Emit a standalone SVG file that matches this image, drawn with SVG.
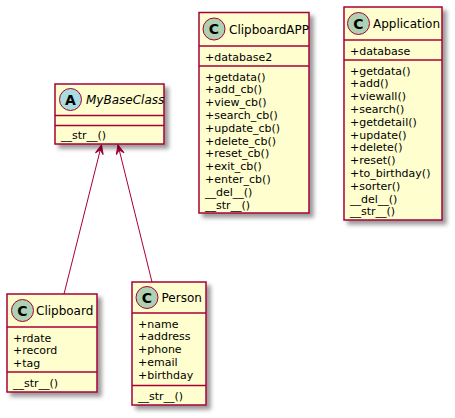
<svg xmlns="http://www.w3.org/2000/svg" width="455" height="418" viewBox="0 0 455 418">
<style>
.box{fill:#FEFECE;stroke:#A80036;stroke-width:1.5;filter:url(#sh)}
.sep{stroke:#A80036;stroke-width:1.5}
.name{font-family:"DejaVu Sans",sans-serif;font-size:12px;fill:#000}
.mem{font-family:"DejaVu Sans",sans-serif;font-size:11px;fill:#000}
.spotC{fill:#ADD1B2;stroke:#A80036;stroke-width:1}
.spotA{fill:#A9DCDF;stroke:#A80036;stroke-width:1}
.spotT{font-family:"DejaVu Sans",sans-serif;font-size:14px;font-weight:bold;fill:#000;text-anchor:middle}
.link{stroke:#A80036;stroke-width:1;fill:none}
</style>
<defs>
<filter id="sh" x="-20%" y="-20%" width="150%" height="150%">
<feGaussianBlur in="SourceAlpha" stdDeviation="2" result="b"/>
<feOffset in="b" dx="4" dy="4" result="o"/>
<feComponentTransfer in="o" result="s"><feFuncA type="linear" slope="0.4"/></feComponentTransfer>
<feMerge><feMergeNode in="s"/><feMergeNode in="SourceGraphic"/></feMerge>
</filter>
<marker id="arr" viewBox="-10 -5 11 10" refX="0" refY="0" markerWidth="11" markerHeight="10" markerUnits="userSpaceOnUse" orient="auto">
<path d="M0,0 L-9,-4 L-5,0 L-9,4 Z" fill="#A80036" stroke="#A80036" stroke-width="1"/>
</marker>
</defs>

<g id="connectors">
<line class="link" x1="64" y1="294" x2="101.5" y2="145" marker-end="url(#arr)"/>
<line class="link" x1="152" y1="282" x2="118" y2="145" marker-end="url(#arr)"/>
</g>

<g id="MyBaseClass">
<rect class="box" x="55" y="84" width="109" height="60"/>
<line class="sep" x1="55" y1="115.5" x2="164" y2="115.5"/>
<line class="sep" x1="55" y1="125.5" x2="164" y2="125.5"/>
<circle class="spotA" cx="70.5" cy="99.5" r="11"/>
<text class="spotT" x="70.5" y="104.5">A</text>
<text class="name" x="86" y="104" font-style="italic">MyBaseClass</text>
<text class="mem" x="61" y="139">__str__()</text>
</g>

<g id="ClipboardAPP">
<rect class="box" x="199" y="12.5" width="110" height="200.5"/>
<line class="sep" x1="199" y1="46" x2="309" y2="46"/>
<line class="sep" x1="199" y1="66" x2="309" y2="66"/>
<circle class="spotC" cx="214" cy="29" r="11"/>
<text class="spotT" x="214" y="34">C</text>
<text class="name" x="229" y="33.5">ClipboardAPP</text>
<text class="mem" x="205" y="60.5">+database2</text>
<text class="mem" x="205" y="80.5">+getdata()</text>
<text class="mem" x="205" y="93.3">+add_cb()</text>
<text class="mem" x="205" y="106.1">+view_cb()</text>
<text class="mem" x="205" y="118.9">+search_cb()</text>
<text class="mem" x="205" y="131.7">+update_cb()</text>
<text class="mem" x="205" y="144.5">+delete_cb()</text>
<text class="mem" x="205" y="157.3">+reset_cb()</text>
<text class="mem" x="205" y="170.1">+exit_cb()</text>
<text class="mem" x="205" y="182.9">+enter_cb()</text>
<text class="mem" x="205" y="195.7">__del__()</text>
<text class="mem" x="205" y="208.5">__str__()</text>
</g>

<g id="Application">
<rect class="box" x="344" y="7" width="98" height="213"/>
<line class="sep" x1="344" y1="40" x2="442" y2="40"/>
<line class="sep" x1="344" y1="60" x2="442" y2="60"/>
<circle class="spotC" cx="358.5" cy="23.5" r="11"/>
<text class="spotT" x="358.5" y="28.5">C</text>
<text class="name" x="373" y="28">Application</text>
<text class="mem" x="350" y="54.5">+database</text>
<text class="mem" x="350" y="74.5">+getdata()</text>
<text class="mem" x="350" y="87.3">+add()</text>
<text class="mem" x="350" y="100.1">+viewall()</text>
<text class="mem" x="350" y="112.9">+search()</text>
<text class="mem" x="350" y="125.7">+getdetail()</text>
<text class="mem" x="350" y="138.5">+update()</text>
<text class="mem" x="350" y="151.3">+delete()</text>
<text class="mem" x="350" y="164.1">+reset()</text>
<text class="mem" x="350" y="176.9">+to_birthday()</text>
<text class="mem" x="350" y="189.7">+sorter()</text>
<text class="mem" x="350" y="202.5">__del__()</text>
<text class="mem" x="350" y="215.3">__str__()</text>
</g>

<g id="Clipboard">
<rect class="box" x="7" y="294" width="90" height="98"/>
<line class="sep" x1="7" y1="327" x2="97" y2="327"/>
<line class="sep" x1="7" y1="372" x2="97" y2="372"/>
<circle class="spotC" cx="22.5" cy="310.5" r="11"/>
<text class="spotT" x="22.5" y="315.5">C</text>
<text class="name" x="36" y="315">Clipboard</text>
<text class="mem" x="13" y="341.5">+rdate</text>
<text class="mem" x="13" y="354.3">+record</text>
<text class="mem" x="13" y="367.1">+tag</text>
<text class="mem" x="13" y="386.5">__str__()</text>
</g>

<g id="Person">
<rect class="box" x="132" y="282" width="74" height="123"/>
<line class="sep" x1="132" y1="313" x2="206" y2="313"/>
<line class="sep" x1="132" y1="385.5" x2="206" y2="385.5"/>
<circle class="spotC" cx="147" cy="297.5" r="11"/>
<text class="spotT" x="147" y="302.5">C</text>
<text class="name" x="161.5" y="302">Person</text>
<text class="mem" x="138" y="327.5">+name</text>
<text class="mem" x="138" y="340.3">+address</text>
<text class="mem" x="138" y="353.1">+phone</text>
<text class="mem" x="138" y="365.9">+email</text>
<text class="mem" x="138" y="378.7">+birthday</text>
<text class="mem" x="138" y="400">__str__()</text>
</g>
</svg>
